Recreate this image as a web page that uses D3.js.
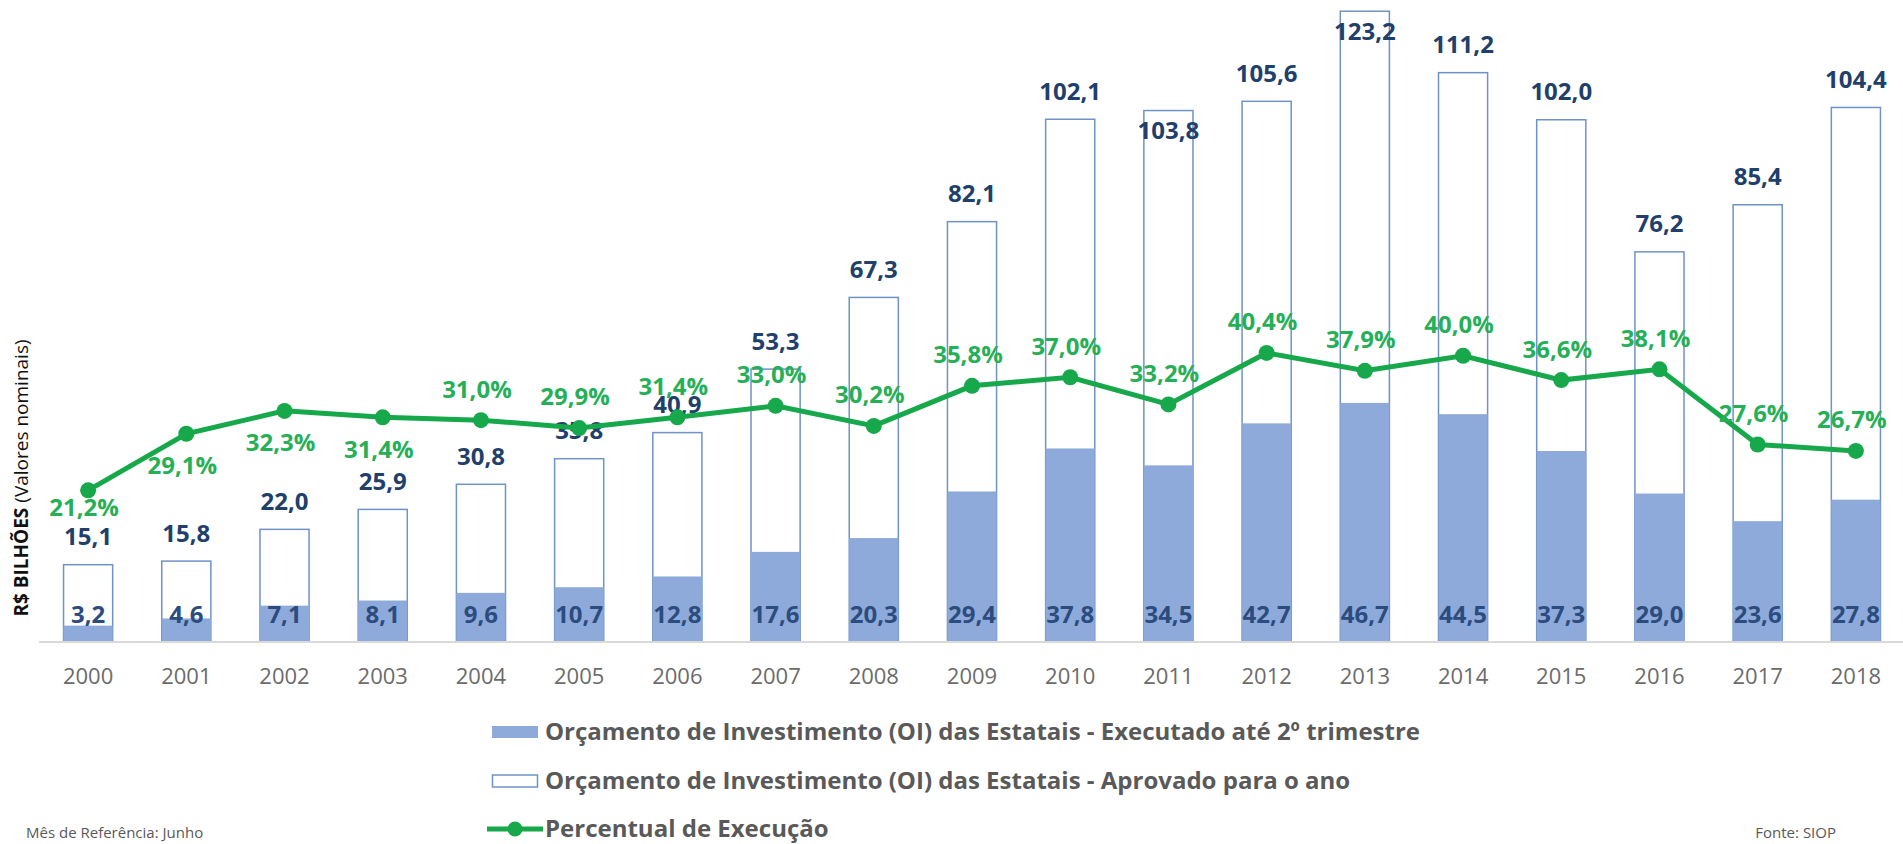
<!DOCTYPE html>
<html>
<head>
<meta charset="utf-8">
<script src="https://cdn.jsdelivr.net/npm/d3@7"></script>
<style>
  body { margin: 0; background: #fff; }
  svg { display: block; font-family: "Open Sans", sans-serif; }
</style>
</head>
<body>
<div id="chart"></div>
<script>
// Data
const years = ["2000", "2001", "2002", "2003", "2004", "2005", "2006", "2007", "2008", "2009",
  "2010", "2011", "2012", "2013", "2014", "2015", "2016", "2017", "2018"];
const approved = [15.1, 15.8, 22.0, 25.9, 30.8, 35.8, 40.9, 53.3, 67.3, 82.1,
  102.1, 103.8, 105.6, 123.2, 111.2, 102.0, 76.2, 85.4, 104.4];
const executed = [3.2, 4.6, 7.1, 8.1, 9.6, 10.7, 12.8, 17.6, 20.3, 29.4,
  37.8, 34.5, 42.7, 46.7, 44.5, 37.3, 29.0, 23.6, 27.8];
const pctExec = [21.2, 29.1, 32.3, 31.4, 31.0, 29.9, 31.4, 33.0, 30.2, 35.8,
  37.0, 33.2, 40.4, 37.9, 40.0, 36.6, 38.1, 27.6, 26.7];
const legendLabels = [
  "Orçamento de Investimento (OI) das Estatais - Executado até 2º trimestre",
  "Orçamento de Investimento (OI) das Estatais - Aprovado para o ano",
  "Percentual de Execução"
];

const width = 1903, height = 844;
const base = 642;

const fmt = v => v.toFixed(1).replace(".", ",");

const svg = d3.select("#chart")
  .append("svg")
  .attr("width", width)
  .attr("height", height);

// Scales
const x = d3.scaleBand().domain(years).range([39, 1905])
  .paddingInner(0.5).paddingOuter(0.25);
const y = d3.scaleLinear().domain([0, 125]).range([base, 2]);
const yPct = d3.scaleLinear().domain([0, 90]).range([base, -2]);
const cx = d => x(d) + x.bandwidth() / 2;

// Approved bars (outline)
svg.selectAll(".approved")
  .data(years)
  .enter().append("rect")
  .attr("x", d => x(d))
  .attr("width", x.bandwidth())
  .attr("y", (d, i) => y(approved[i]))
  .attr("height", (d, i) => base - y(approved[i]))
  .attr("fill", "#fff")
  .attr("stroke", "#6f93c6")
  .attr("stroke-width", 1.5);

// Executed bars
svg.selectAll(".executed")
  .data(years)
  .enter().append("rect")
  .attr("x", d => x(d))
  .attr("width", x.bandwidth())
  .attr("y", (d, i) => y(executed[i]))
  .attr("height", (d, i) => base - y(executed[i]))
  .attr("fill", "#8eaadb");

// X axis
const xAxis = svg.append("g")
  .attr("transform", `translate(0,${base})`)
  .call(d3.axisBottom(x).tickSize(0).tickPadding(26));
xAxis.select(".domain").attr("stroke", "#d9d9d9").attr("stroke-width", 2)
  .attr("d", "M39,0H1903");
xAxis.selectAll("text")
  .attr("font-family", "Open Sans, sans-serif")
  .attr("font-size", 22)
  .attr("fill", "#6b6b6b");

// Value labels: approved
svg.selectAll(".lblA")
  .data(years)
  .enter().append("text")
  .attr("x", d => cx(d))
  .attr("y", (d, i) => {
    let yy = Math.max(y(approved[i]) - 28, 32);
    if (d === "2011") yy = y(approved[i]) + 20;
    return yy;
  })
  .attr("dy", "0.35em")
  .attr("text-anchor", "middle")
  .attr("font-size", 24)
  .attr("font-weight", 700)
  .attr("fill", "#213f6b")
  .text((d, i) => fmt(approved[i]));

// Value labels: executed (inside base)
svg.selectAll(".lblE")
  .data(years)
  .enter().append("text")
  .attr("x", d => cx(d))
  .attr("y", base - 27)
  .attr("dy", "0.35em")
  .attr("text-anchor", "middle")
  .attr("font-size", 24)
  .attr("font-weight", 700)
  .attr("fill", "#2c4c7e")
  .text((d, i) => fmt(executed[i]));

// Percent line
const line = d3.line()
  .x((d, i) => cx(years[i]))
  .y(d => yPct(d));

svg.append("path")
  .datum(pctExec)
  .attr("d", line)
  .attr("fill", "none")
  .attr("stroke", "#16a84b")
  .attr("stroke-width", 5);

svg.selectAll(".dot")
  .data(pctExec)
  .enter().append("circle")
  .attr("cx", (d, i) => cx(years[i]))
  .attr("cy", d => yPct(d))
  .attr("r", 8)
  .attr("fill", "#16a84b");

// Percent labels: below for the first years, above afterwards
svg.selectAll(".lblP")
  .data(pctExec)
  .enter().append("text")
  .attr("x", (d, i) => cx(years[i]) - 4)
  .attr("y", (d, i) => {
    const py = yPct(d);
    if (i < 4) {
      const limit = (y(approved[i]) - 28) - 29;
      return py + Math.min(32, limit - py);
    }
    return py - 31;
  })
  .attr("dy", "0.35em")
  .attr("text-anchor", "middle")
  .attr("font-size", 24)
  .attr("font-weight", 700)
  .attr("fill", "#25b058")
  .text(d => fmt(d) + "%");

// Y axis title
const yt = svg.append("text")
  .attr("transform", "translate(21,478) rotate(-90)")
  .attr("text-anchor", "middle")
  .attr("dy", "0.35em")
  .attr("font-size", 19)
  .attr("fill", "#111");
yt.append("tspan").attr("font-weight", 700).text("R$ BILHÕES ");
yt.append("tspan").text("(Valores nominais)");

// Legend
const leg = svg.append("g");
const legY = [732, 781, 829];
leg.append("rect").attr("x", 492).attr("y", legY[0] - 6).attr("width", 46).attr("height", 12)
  .attr("fill", "#8eaadb");
leg.append("rect").attr("x", 492.5).attr("y", legY[1] - 6).attr("width", 45).attr("height", 12)
  .attr("fill", "#fff").attr("stroke", "#6f93c6").attr("stroke-width", 1.5);
leg.append("line").attr("x1", 487).attr("x2", 543).attr("y1", legY[2]).attr("y2", legY[2])
  .attr("stroke", "#16a84b").attr("stroke-width", 5);
leg.append("circle").attr("cx", 515).attr("cy", legY[2]).attr("r", 7.5).attr("fill", "#16a84b");
leg.selectAll("text")
  .data(legendLabels)
  .enter().append("text")
  .attr("x", 545)
  .attr("y", (d, i) => legY[i])
  .attr("dy", "0.35em")
  .attr("font-size", 24)
  .attr("font-weight", 700)
  .attr("fill", "#595959")
  .text(d => d);

// Footer notes
svg.append("text").attr("x", 26).attr("y", 838)
  .attr("font-size", 15).attr("fill", "#595959")
  .text("Mês de Referência: Junho");
svg.append("text").attr("x", 1836).attr("y", 838)
  .attr("text-anchor", "end")
  .attr("font-size", 15).attr("fill", "#595959")
  .text("Fonte: SIOP");
</script>
</body>
</html>
